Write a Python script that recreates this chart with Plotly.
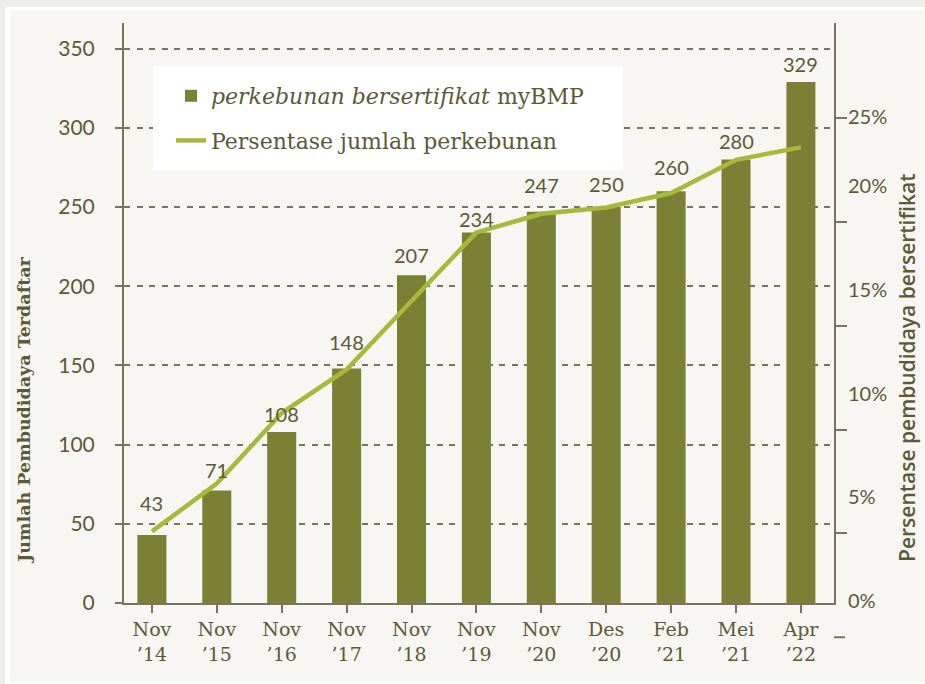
import plotly.graph_objects as go

# ---------------- data ----------------
categories = ["Nov<br>’14", "Nov<br>’15", "Nov<br>’16", "Nov<br>’17", "Nov<br>’18",
              "Nov<br>’19", "Nov<br>’20", "Des<br>’20", "Feb<br>’21", "Mei<br>’21", "Apr<br>’22"]
certified_farms = [43, 71, 108, 148, 207, 234, 247, 250, 260, 280, 329]
percent_farms = [5.1, 7.4, 10.8, 12.9, 16.2, 19.5, 20.4, 20.7, 21.4, 23.0, 23.6]

left_ticks = [0, 50, 100, 150, 200, 250, 300, 350]
pct_tick_text = ["0%", "5%", "10%", "15%", "20%", "25%"]
pct_tick_marks = [5, 10, 15, 20, 25]

# ---------------- style ----------------
BAR = "#7a8034"
LINE = "#a7b93a"
AXIS = "#7a735e"
TEXT = "#5c5a36"
PANEL = "#f7f6f2"
SERIF = "DejaVu Serif"
SANS = "Lato"

Y_RANGE = [0, 366.2]
Y2_RANGE = [1.65, 29.59]
X_RANGE = [-0.43, 10.51]
# label positions on the right axis as they appear in the original artwork
pct_label_pos = [v + 1.74 for v in (0, 5, 10, 15, 20)] + [25.07]
label_gap_px = [23, 12, 9, 18, 11, 4, 18, 14, 15, 10, 9]

W, H = 925, 684
ML, MR, MT, MB = 124, 91, 23, 81
PW, PH = W - ML - MR, H - MT - MB


def px_x(p):
    return (p - ML) / PW


def px_y(p):
    return (H - MB - p) / PH


fig = go.Figure()
fig.add_trace(go.Bar(
    x=categories, y=certified_farms, name="<i>perkebunan bersertifikat</i> myBMP",
    marker=dict(color=BAR, line=dict(width=0)), width=0.447,
    legendgroup="a", hoverinfo="x+y",
))
fig.add_trace(go.Scatter(
    x=categories, y=percent_farms, name="Persentase jumlah perkebunan",
    mode="lines", line=dict(color=LINE, width=4.5), yaxis="y2",
    legendgroup="b",
))

# value labels above bars
for c, v, g in zip(categories, certified_farms, label_gap_px):
    fig.add_annotation(x=c, y=v, xref="x", yref="y", text=str(v), showarrow=False,
                       yanchor="bottom", yshift=g - 5,
                       font=dict(family=SANS, size=20, color=TEXT))

# axis titles
fig.add_annotation(x=px_x(24), y=px_y(410), xref="paper", yref="paper",
                   xanchor="center", yanchor="middle",
                   text="Jumlah Pembudidaya Terdaftar", textangle=-90, showarrow=False,
                   font=dict(family=SERIF, size=17.5, color=TEXT, weight="bold"))
fig.add_annotation(x=px_x(907), y=px_y(368), xref="paper", yref="paper",
                   xanchor="center", yanchor="middle",
                   text="Persentase pembudidaya bersertifikat", textangle=-90, showarrow=False,
                   font=dict(family="Open Sans", size=21, color=TEXT, weight=600))

# background frame and legend box
shapes = [
    dict(type="rect", xref="paper", yref="paper", x0=px_x(5), x1=px_x(935),
         y0=px_y(694), y1=px_y(7), fillcolor="#ffffff", line=dict(width=0), layer="below"),
    dict(type="rect", xref="paper", yref="paper", x0=px_x(10), x1=px_x(935),
         y0=px_y(682), y1=px_y(10), fillcolor=PANEL, line=dict(width=0), layer="below"),
    dict(type="rect", xref="paper", yref="paper", x0=px_x(153), x1=px_x(623),
         y0=px_y(170), y1=px_y(66), fillcolor="#ffffff", line=dict(width=0), layer="above"),
]
# the 0% tick mark of the right axis sits below the plot floor
y0_paper = (0 - Y2_RANGE[0]) / (Y2_RANGE[1] - Y2_RANGE[0])
shapes.append(dict(type="line", xref="paper", yref="paper", x0=1.0, x1=1.0 + 11 / PW,
                   y0=y0_paper, y1=y0_paper, line=dict(color=AXIS, width=2)))

fig.update_layout(
    width=W, height=H,
    margin=dict(l=ML, r=MR, t=MT, b=MB),
    paper_bgcolor="#efedea",
    plot_bgcolor="rgba(0,0,0,0)",
    shapes=shapes,
    bargap=0.5,
    showlegend=True,
    legend=dict(
        x=px_x(171), y=px_y(75), xanchor="left", yanchor="top",
        bgcolor="rgba(0,0,0,0)", borderwidth=0,
        font=dict(family=SERIF, size=22, color=TEXT),
        traceorder="grouped", tracegroupgap=13, itemwidth=30,
    ),
    xaxis=dict(
        type="category", range=X_RANGE, showline=True, linecolor=AXIS, linewidth=2,
        ticks="outside", ticklen=8, tickwidth=2, tickcolor=AXIS, showgrid=False,
        tickfont=dict(family=SERIF, size=19, color=TEXT), zeroline=False,
    ),
    yaxis=dict(
        range=Y_RANGE, tickmode="array", tickvals=left_ticks,
        showline=True, linecolor=AXIS, linewidth=2,
        ticks="outside", ticklen=7, tickwidth=2, tickcolor=AXIS,
        showgrid=True, gridcolor=AXIS, gridwidth=2.4, griddash="6px,6.5px",
        zeroline=False, ticklabelstandoff=16,
        tickfont=dict(family=SANS, size=21, color=TEXT),
    ),
    yaxis2=dict(
        overlaying="y", side="right", range=Y2_RANGE,
        tickmode="array", tickvals=pct_label_pos, ticktext=pct_tick_text,
        showline=True, linecolor=AXIS, linewidth=2, ticks="",
        showgrid=False, zeroline=False, ticklabelstandoff=8,
        minor=dict(tickmode="array", tickvals=pct_tick_marks, ticks="outside",
                   ticklen=11, tickwidth=2, tickcolor=AXIS, showgrid=False),
        tickfont=dict(family=SANS, size=20, color=TEXT),
    ),
)

fig.write_html("out.html", config={"displayModeBar": False},
               post_script="document.body.style.margin='0';")
